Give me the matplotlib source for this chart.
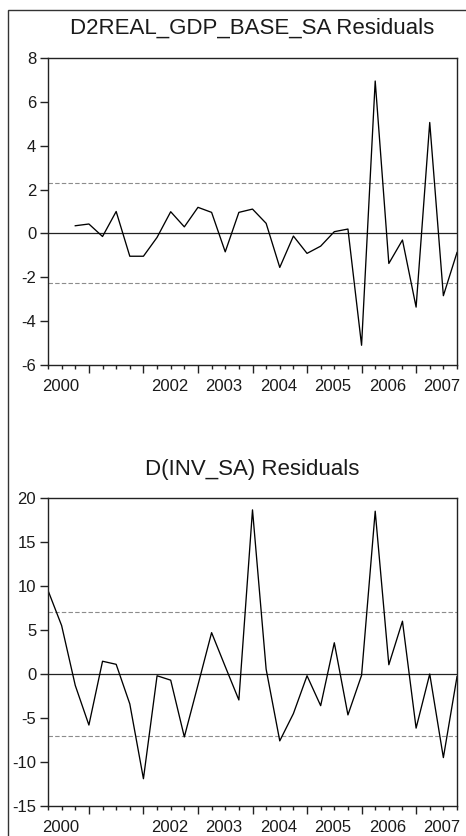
import matplotlib
matplotlib.use("Agg")
import matplotlib.pyplot as plt
from matplotlib.patches import Rectangle

plt.rcParams["font.family"] = ["Liberation Sans", "DejaVu Sans"]

# quarterly sample 2000Q2 .. 2007Q4
quarters = ["2000Q2", "2000Q3", "2000Q4",
            "2001Q1", "2001Q2", "2001Q3", "2001Q4",
            "2002Q1", "2002Q2", "2002Q3", "2002Q4",
            "2003Q1", "2003Q2", "2003Q3", "2003Q4",
            "2004Q1", "2004Q2", "2004Q3", "2004Q4",
            "2005Q1", "2005Q2", "2005Q3", "2005Q4",
            "2006Q1", "2006Q2", "2006Q3", "2006Q4",
            "2007Q1", "2007Q2", "2007Q3", "2007Q4"]
year_labels = ["2000", "2002", "2003", "2004", "2005", "2006", "2007"]

# residuals (GDP equation starts two quarters later)
gdp_resid = [None, None, 0.35,
             0.43, -0.14, 1.00, -1.04,
             -1.04, -0.18, 0.99, 0.30,
             1.19, 0.96, -0.84, 0.96,
             1.11, 0.46, -1.55, -0.12,
             -0.91, -0.58, 0.08, 0.20,
             -5.10, 6.95, -1.37, -0.30,
             -3.36, 5.06, -2.84, -0.87]
inv_resid = [9.5, 5.5, -1.3,
             -5.8, 1.45, 1.1, -3.4,
             -11.9, -0.2, -0.7, -7.15,
             -1.25, 4.7, 0.85, -2.95,
             18.65, 0.55, -7.6, -4.5,
             -0.2, -3.6, 3.55, -4.65,
             -0.15, 18.5, 1.05, 6.0,
             -6.15, 0.0, -9.5, -0.3]

gdp_band = 2.28
inv_band = 7.1

fig = plt.figure(figsize=(4.66, 8.36), dpi=100)
W, H = 466, 836

# outer frame
fig.patches.append(Rectangle((8 / W, -0.1), 1.2, 1.1 - 10 / H,
                             transform=fig.transFigure, fill=False,
                             edgecolor="#333333", linewidth=1.0))


def make_panel(rect, values, band, ylim, yticks, title, title_y):
    ax = fig.add_axes(rect)
    x = [i for i, v in enumerate(values) if v is not None]
    y = [v for v in values if v is not None]
    ax.axhline(0, color="#222222", linewidth=0.9, zorder=1)
    ax.axhline(band, color="#8c8c8c", linewidth=0.8, linestyle=(0, (4, 2)), zorder=1)
    ax.axhline(-band, color="#8c8c8c", linewidth=0.8, linestyle=(0, (4, 2)), zorder=1)
    ax.plot(x, y, color="black", linewidth=0.95, zorder=2)

    ax.set_xlim(0, len(quarters) - 1)
    ax.set_ylim(*ylim)
    ax.set_yticks(yticks)
    ax.set_yticklabels([str(t) for t in yticks])

    year_starts = [i for i, q in enumerate(quarters) if q.endswith("Q1")]
    ax.set_xticks(year_starts)
    ax.set_xticklabels([])
    ax.set_xticks(range(len(quarters)), minor=True)
    ax.tick_params(axis="x", which="major", length=5.5, width=1.0, direction="out",
                   color="#222222")
    ax.tick_params(axis="x", which="minor", length=2.6, width=1.0, direction="out",
                   color="#222222")
    ax.tick_params(axis="y", length=5.5, width=1.0, direction="out", pad=3.0,
                   labelsize=12, color="#222222", labelcolor="#1a1a1a")

    # year labels centred on each calendar year
    for lab in year_labels:
        yr = int(lab)
        q1 = quarters.index(f"{yr}Q1") if f"{yr}Q1" in quarters else -1
        ax.annotate(lab, xy=(q1 + 1.9, 0), xycoords=("data", "axes fraction"),
                    xytext=(0, -10), textcoords="offset points",
                    ha="center", va="top", fontsize=12, color="#1a1a1a",
                    annotation_clip=False)

    for s in ax.spines.values():
        s.set_linewidth(1.0)
        s.set_color("#222222")

    fig.text((48 + 457) / 2 / W, 1 - title_y / H, title, ha="center", va="center",
             fontsize=16, color="#1a1a1a")
    return ax


make_panel([48 / W, 1 - 365 / H, 409 / W, 307 / H], gdp_resid, gdp_band,
           (-6, 8), [-6, -4, -2, 0, 2, 4, 6, 8],
           "D2REAL_GDP_BASE_SA Residuals", 28)
make_panel([48 / W, 1 - 806 / H, 409 / W, 308 / H], inv_resid, inv_band,
           (-15, 20), [-15, -10, -5, 0, 5, 10, 15, 20],
           "D(INV_SA) Residuals", 470)

fig.savefig("out.png", dpi=100, facecolor="white")
